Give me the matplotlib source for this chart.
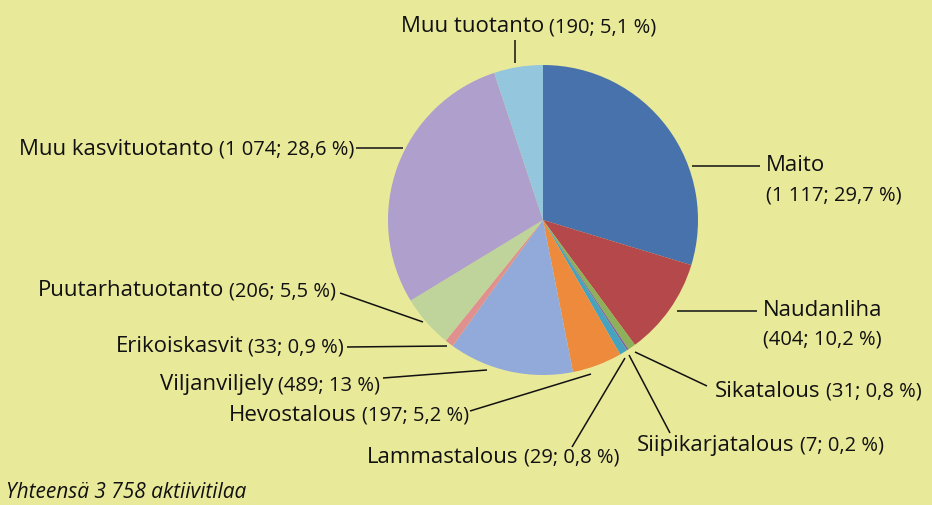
import matplotlib
matplotlib.use('Agg')
import matplotlib.pyplot as plt

# data
names = ['Maito', 'Naudanliha', 'Sikatalous', 'Siipikarjatalous', 'Lammastalous',
         'Hevostalous', 'Viljanviljely', 'Erikoiskasvit', 'Puutarhatuotanto',
         'Muu kasvituotanto', 'Muu tuotanto']
counts = [1117, 404, 31, 7, 29, 197, 489, 33, 206, 1074, 190]
shares = [29.7, 10.2, 0.8, 0.2, 0.8, 5.2, 13, 0.9, 5.5, 28.6, 5.1]
colors = ['#4872ab', '#b4484a', '#8fb05a', '#7f66a0', '#45a3bf', '#ee8a3c',
          '#92aada', '#e0908f', '#bfd49a', '#ae9fcc', '#94c6de']
total_text = 'Yhteensä 3 758 aktiivitilaa'

BG = '#e9e99a'
FONT = 'Open Sans'
NAME_FS = 16
DET_FS = 14.5

def detail(c, s):
    return '(' + f'{c:,}'.replace(',', ' ') + '; ' + f'{s:g}'.replace('.', ',') + ' %)'

fig = plt.figure(figsize=(9.32, 5.05), dpi=100, facecolor=BG)
ax = fig.add_axes([0, 0, 1, 1])
ax.set_facecolor(BG)

# y axis inverted so that positions are read straight from the picture
wedges, _ = ax.pie(shares, colors=colors, startangle=-90, counterclock=True,
                   center=(543, 220), radius=155,
                   wedgeprops=dict(linewidth=0))
ax.set_xlim(0, 932)
ax.set_ylim(505, 0)
ax.axis('off')

fig.canvas.draw()
rend = fig.canvas.get_renderer()

def width(t):
    return t.get_window_extent(rend).width

def label(i, x, y, align='left', two_lines=False, dy=29):
    d = detail(counts[i], shares[i])
    kw = dict(family=FONT, color='#111111', va='baseline')
    if two_lines:
        ax.text(x, y, names[i], fontsize=NAME_FS, **kw)
        ax.text(x, y + dy, d, fontsize=DET_FS, **kw)
    elif align == 'left':
        t = ax.text(x, y, names[i], fontsize=NAME_FS, **kw)
        ax.text(x + width(t) + 5, y, d, fontsize=DET_FS, **kw)
    else:
        t = ax.text(x, y, d, fontsize=DET_FS, ha='right', **kw)
        ax.text(x - width(t) - 5, y, names[i], fontsize=NAME_FS, ha='right', **kw)

def leader(x0, y0, x1, y1):
    ax.plot([x0, x1], [y0, y1], color='#111111', lw=1.1, solid_capstyle='butt')

label(0, 766, 171, two_lines=True)
leader(692, 166, 760, 166)
label(1, 763, 316, two_lines=True)
leader(677, 311, 757, 311)
label(2, 715, 397)
leader(635, 352, 707, 386)
label(3, 637, 451)
leader(629, 355, 670, 433)
label(4, 367, 463)
leader(625, 358, 572, 447)
label(5, 469, 421, align='right')
leader(591, 374, 470, 411)
label(6, 380, 390, align='right')
leader(487, 370, 383, 378)
label(7, 344, 352, align='right')
leader(447, 346, 347, 347)
label(8, 336, 296, align='right')
leader(423, 322, 340, 293)
label(9, 354, 155, align='right')
leader(403, 148, 356, 148)
label(10, 401, 32)
leader(515, 40, 515, 63)

ax.text(6, 498, total_text, family=FONT, style='italic', fontsize=15,
        color='#111111', va='baseline')

fig.savefig('out.png', dpi=100, facecolor=BG)
